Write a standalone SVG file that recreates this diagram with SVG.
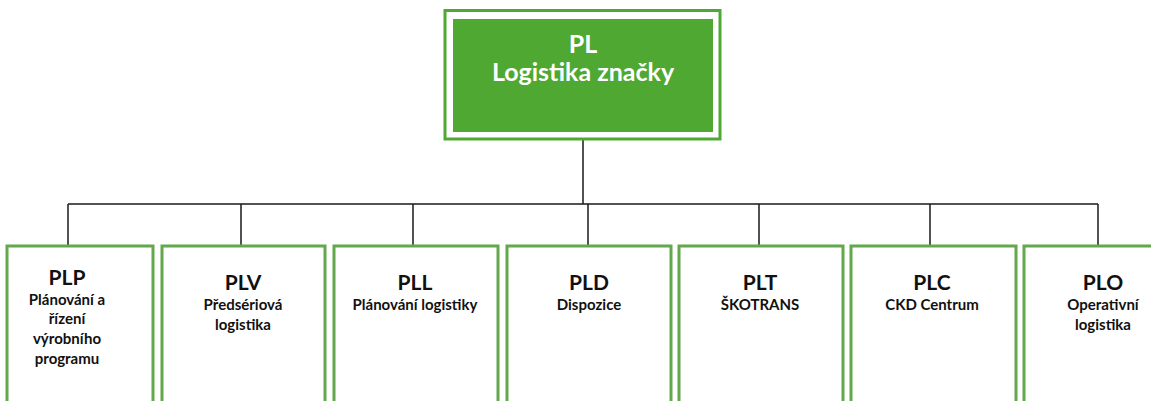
<svg xmlns="http://www.w3.org/2000/svg" width="1151" height="401" viewBox="0 0 1151 401">
<style>
.box{fill:#fff;stroke:#62a84c;stroke-width:3}
.t{font-family:Lato,"Open Sans",sans-serif;font-weight:bold;text-anchor:middle;fill:#111}
.h{font-size:21px}
.s{font-size:15px}
.w{font-family:Lato,"Open Sans",sans-serif;font-weight:bold;text-anchor:middle;fill:#fff;font-size:25px}
.c{fill:none;stroke:#1a1a1a;stroke-width:1.5}
</style>
<rect width="1151" height="401" fill="#fff"/>
<g id="connectors">
<path class="c" d="M583 139V204M68 204H1098M68 204V246M241 204V246M413 204V246M588 204V246M759 204V246M930 204V246M1098 204V246"/>
</g>
<g id="PL">
<rect x="445" y="10.5" width="275" height="128.5" fill="#fff" stroke="#4ea832" stroke-width="3"/>
<rect x="453" y="19" width="260" height="113" fill="#4ea832"/>
<text class="w" x="583" y="53">PL</text>
<text class="w" x="583" y="81">Logistika značky</text>
</g>
<g id="PLP">
<rect class="box" x="7" y="246" width="146" height="170"/>
<text class="t h" x="67" y="285">PLP</text>
<text class="t s" x="67" y="305">Plánování  a</text>
<text class="t s" x="67" y="324">řízení</text>
<text class="t s" x="67" y="344">výrobního</text>
<text class="t s" x="67" y="364">programu</text>
</g>
<g id="PLV">
<rect class="box" x="162" y="246" width="163" height="170"/>
<text class="t h" x="243" y="290">PLV</text>
<text class="t s" x="243" y="310">Předsériová</text>
<text class="t s" x="243" y="330">logistika</text>
</g>
<g id="PLL">
<rect class="box" x="334" y="246" width="164" height="170"/>
<text class="t h" x="415" y="290">PLL</text>
<text class="t s" x="415" y="310">Plánování  logistiky</text>
</g>
<g id="PLD">
<rect class="box" x="507" y="246" width="164" height="170"/>
<text class="t h" x="589" y="290">PLD</text>
<text class="t s" x="589" y="310">Dispozice</text>
</g>
<g id="PLT">
<rect class="box" x="679" y="246" width="164" height="170"/>
<text class="t h" x="760" y="290">PLT</text>
<text class="t s" x="760" y="310">ŠKOTRANS</text>
</g>
<g id="PLC">
<rect class="box" x="851" y="246" width="165" height="170"/>
<text class="t h" x="932" y="290">PLC</text>
<text class="t s" x="932" y="310">CKD Centrum</text>
</g>
<g id="PLO">
<rect class="box" x="1024" y="246" width="164" height="170"/>
<text class="t h" x="1103" y="290">PLO</text>
<text class="t s" x="1103" y="310">Operativní</text>
<text class="t s" x="1103" y="330">logistika</text>
</g>
</svg>
